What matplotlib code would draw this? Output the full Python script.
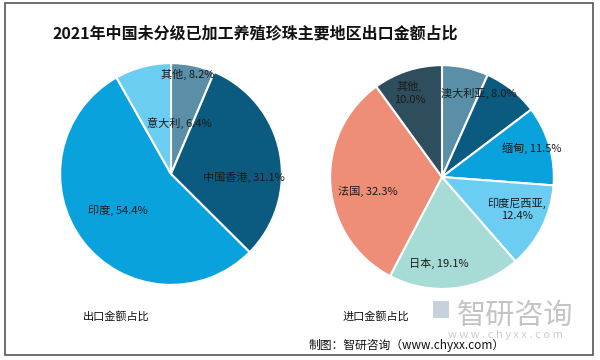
import matplotlib
matplotlib.use("Agg")
import matplotlib.pyplot as plt
from matplotlib.patches import Rectangle

plt.rcParams['font.family'] = ['Noto Sans CJK SC', 'DejaVu Sans']

# ---- data ----
title = "2021年中国未分级已加工养殖珍珠主要地区出口金额占比"
export_labels = ["其他, 8.2%", "中国香港, 31.1%", "印度, 54.4%", "意大利, 6.4%"]
export_values = [6.4, 31.1, 54.4, 8.2]
import_labels = ["", "澳大利亚, 8.0%", "缅甸, 11.5%", "印度尼西亚,\n12.4%", "日本, 19.1%", "法国, 32.3%", "其他,\n10.0%"]
import_values = [6.7, 8.0, 11.5, 12.4, 19.1, 32.3, 10.0]
export_caption = "出口金额占比"
import_caption = "进口金额占比"
source = "制图：智研咨询（www.chyxx.com）"

# ---- styles / layout ----
export_colors = ["#5b8fa8", "#0b5b80", "#0aa2dc", "#6ccdf3"]
import_colors = ["#5b8fa8", "#0b5b80", "#0aa2dc", "#6ccdf3", "#a7dbd5", "#ee8e77", "#2f4e5d"]
export_label_pos = [(0.15, 0.90), (0.66, -0.03), (-0.48, -0.33), (0.08, 0.46)]
import_label_pos = [(0, 0), (0.33, 0.75), (0.80, 0.26), (0.67, -0.29), (-0.03, -0.77), (-0.66, -0.13), (-0.29, 0.75)]

W, H = 600, 360
fig = plt.figure(figsize=(6, 3.6), dpi=100)
fig.patch.set_facecolor("white")

# frame
fig.add_artist(Rectangle((5 / W, 1 - 355 / H), 588 / W, 352 / H, transform=fig.transFigure,
                         fill=False, edgecolor="#555555", linewidth=1.2))


def pie_axes(cx, cy, r):
    return fig.add_axes([(cx - r) / W, 1 - (cy + r) / H, 2 * r / W, 2 * r / H])


def finish(ax):
    ax.set_xlim(-1.01, 1.01)
    ax.set_ylim(-1.01, 1.01)
    ax.axis("off")


ax1 = pie_axes(171, 174, 112)
ax1.pie(export_values, colors=export_colors, startangle=90, counterclock=False,
        radius=1.0, wedgeprops=dict(edgecolor="white", linewidth=1.5))
finish(ax1)
for lab, (x, y) in zip(export_labels, export_label_pos):
    ax1.text(x, y, lab, ha="center", va="center", fontsize=8, color="#1a1a1a")

ax2 = pie_axes(442, 177, 113)
ax2.pie(import_values, colors=import_colors, startangle=90, counterclock=False,
        radius=1.0, wedgeprops=dict(edgecolor="white", linewidth=1.5))
finish(ax2)
for lab, (x, y) in zip(import_labels, import_label_pos):
    if lab:
        ax2.text(x, y, lab, ha="center", va="center", fontsize=8, color="#1a1a1a",
                 linespacing=1.3)

# watermark
fig.add_artist(Rectangle((433 / W, 1 - 318 / H), 16 / W, 17 / H, transform=fig.transFigure,
                         facecolor="#b8c6d4", edgecolor="none", alpha=0.8))
fig.text(515 / W, 1 - 316 / H, "智研咨询", ha="center", va="center", fontsize=21,
         color="#c4c4c4", fontweight="light")
fig.text(505 / W, 1 - 335 / H, "w w w . c h y x x . c o m", ha="center", va="center",
         fontsize=8, color="#cccccc")

fig.text(255 / W, 1 - 33 / H, title, ha="center", va="center", fontsize=11.5,
         fontweight="bold", color="#111111")
fig.text(116 / W, 1 - 316 / H, export_caption, ha="center", va="center", fontsize=8, color="#111111")
fig.text(376 / W, 1 - 316 / H, import_caption, ha="center", va="center", fontsize=8, color="#111111")
fig.text(407 / W, 1 - 345 / H, source, ha="center", va="center", fontsize=8.5, color="#111111")

fig.savefig("out.png", dpi=100)
